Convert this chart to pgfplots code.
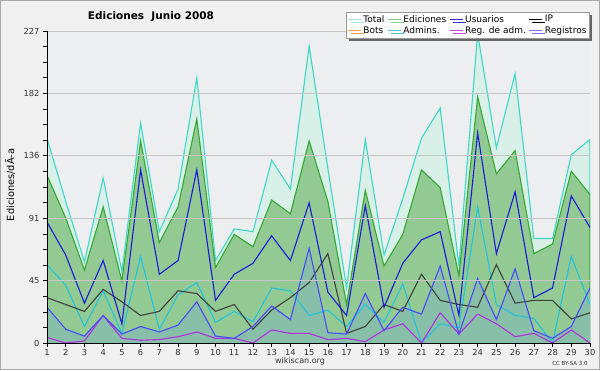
\documentclass[border=0pt]{standalone}
\usepackage{fontspec}
\setmainfont{DejaVu Sans}
\usepackage{pgfplots}
\usepackage{pgfplotstable}
\pgfplotsset{compat=1.18}
\usetikzlibrary{shadows}
\definecolor{outerbg}{HTML}{F0F0F0}
\definecolor{plotbg}{HTML}{EDEEF0}
\definecolor{bordercol}{HTML}{A8A8A8}
\definecolor{totline}{HTML}{3ED8C6}
\definecolor{totfill}{HTML}{D8F0E8}
\definecolor{edline}{HTML}{33A833}
\definecolor{edfill}{HTML}{93C993}
\definecolor{usuline}{HTML}{1A1AD8}
\definecolor{ipline}{HTML}{404040}
\definecolor{admline}{HTML}{22C4DC}
\definecolor{regadmline}{HTML}{B030E0}
\definecolor{regline}{HTML}{4848FF}
\definecolor{regfill}{HTML}{88BFA8}
\definecolor{totleg}{HTML}{A8E8D8}
\definecolor{edleg}{HTML}{88D088}
\definecolor{usuleg}{HTML}{3030E0}
\definecolor{botleg}{HTML}{FFA040}
\definecolor{admleg}{HTML}{40C8E0}
\definecolor{regadmleg}{HTML}{C040E0}
\definecolor{regleg}{HTML}{7070FF}

\pgfplotstableread{
day total ed usu ip adm regadm reg
1 149 122 88 33 57 4 26
2 103 91 64 28 42 0 10
3 59 53 29 23 12 1.5 5
4 120 99 60 39 38 20 20
5 52 45 14 30 7 3.4 6.5
6 160 147 126 20 63 2 12
7 81 73 50 23 10 2.5 8
8 112 99 60 38 35 4.6 13
9 193 163 126 36 44 8 30
10 60 55 31 23 15 3.4 5
11 83 79 50 28 23 3.4 3.4
12 81 70 58 10 15.5 0 12
13 133 104 78 24 40 9.5 27
14 112 94 60 33 38 7 17
15 216 147 102 44 20 7 69
16 127 103 37 65 24 2.4 7.5
17 40 28 20 7 12 3.4 6.5
18 148 111 100 12 28 1 36
19 64 56 26 28 15 9.5 9
20 105 79 58 23 43 14 26
21 149 126 75 50 0 0 21
22 171 113 81 31 14 22 56
23 56 49 20 28 11 6.5 6.5
24 225 179 153 26 99 21 47
25 142 123 65 57 28 14 17
26 196 140 110 29 20 4.6 54
27 76 65 33 31 18 7 9
28 76 72 40 31 0 0 3.4
29 137 125 107 17.5 63 9.5 12
30 148 108 84 22 28 0 40
}\data

\begin{document}
\begin{tikzpicture}
\fill[outerbg] (0,0) rectangle (600pt,370pt);
\draw[bordercol, line width=0.8pt] (0.4pt,0.4pt) rectangle (599.6pt,369.6pt);
\begin{axis}[
  at={(47pt,27pt)}, anchor=south west,
  scale only axis, width=543pt, height=312pt,
  xmin=1, xmax=30, ymin=0, ymax=227,
  axis x line*=bottom, axis y line*=left,
  axis line style={-, black, line width=0.9pt},
  xtick={1,...,30},
  ytick={0,45.4,90.8,136.2,181.6,227},
  yticklabels={0,45,91,136,182,227},
  minor y tick num=3,
  tick align=outside,
  major tick length=4pt, minor tick length=4pt,
  ymajorgrids, grid style={black!22, line width=0.7pt},
  tick style={black, line width=0.6pt},
  ticklabel style={font=\fontsize{8.3}{9}\selectfont, text=black!80},
  xticklabel style={yshift=1pt},
  /pgf/number format/assume math mode=true,
  axis background/.style={fill=plotbg},
  axis on top,
  legend columns=4,
  legend cell align=left,
  legend style={at={(0.551,1.061)}, anchor=north west,
    font=\fontsize{9}{9}\selectfont, draw=black!40, fill=white,
    inner sep=1pt, row sep=-1pt,
    /tikz/every even column/.append style={column sep=1pt},
    drop shadow={shadow xshift=3pt, shadow yshift=-3pt, fill=black!60, opacity=1}},
  legend image code/.code={\draw[#1] (0pt,0pt) -- (13pt,0pt);},
]
\addlegendimage{totleg, line width=1pt}
\addlegendimage{edleg, line width=1pt}
\addlegendimage{usuleg, line width=1pt}
\addlegendimage{black, line width=1pt}
\addlegendimage{botleg, line width=1pt}
\addlegendimage{admleg, line width=1pt}
\addlegendimage{regadmleg, line width=1pt}
\addlegendimage{regleg, line width=1pt}
\legend{Total, Ediciones, Usuarios, IP, Bots, Admins., Reg. de adm., Registros}

\addplot[draw=totline, fill=totfill, line width=1.1pt, forget plot] table[x=day, y=total] {\data} \closedcycle;
\addplot[draw=edline, fill=edfill, line width=1.1pt, forget plot] table[x=day, y=ed] {\data} \closedcycle;
\addplot[draw=none, fill=regfill, forget plot] table[x=day, y=reg] {\data} \closedcycle;
\addplot[admline, line width=1.1pt, forget plot] table[x=day, y=adm] {\data};
\addplot[ipline, line width=1.1pt, forget plot] table[x=day, y=ip] {\data};
\addplot[usuline, line width=1.1pt, forget plot] table[x=day, y=usu] {\data};
\addplot[regadmline, line width=1.1pt, forget plot] table[x=day, y=regadm] {\data};
\addplot[regline, line width=1.1pt, forget plot] table[x=day, y=reg] {\data};
\end{axis}
\node[font=\fontsize{10.5}{12}\selectfont\bfseries] at (151pt,353pt) {Ediciones\ \ Junio 2008};
\node[rotate=90, font=\fontsize{9.8}{10}\selectfont] at (10pt,185pt) {Ediciones/dÃ-a};
\node[font=\fontsize{8}{9}\selectfont, text=black!80] at (300pt,8.5pt) {wikiscan.org};
\node[font=\fontsize{5.5}{6}\selectfont, text=black!80] at (570pt,7pt) {CC BY-SA 3.0};
\end{tikzpicture}
\end{document}
